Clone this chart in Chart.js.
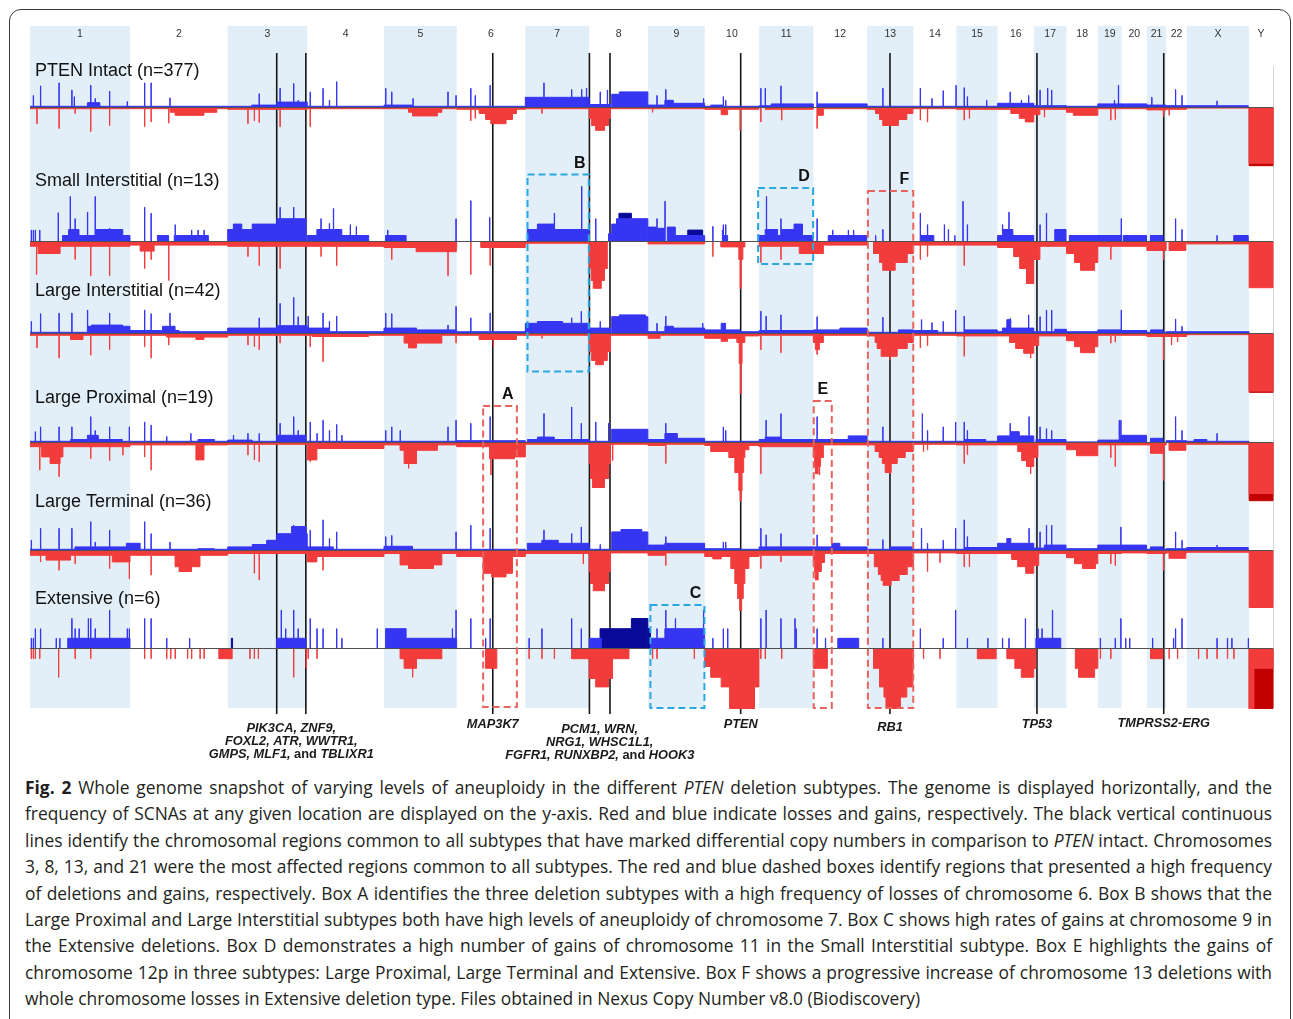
<!DOCTYPE html>
<html>
<head>
<meta charset="utf-8">
<title>Whole genome snapshot - PTEN deletion subtypes</title>
<script src="https://cdn.jsdelivr.net/npm/chart.js@4.4.1/dist/chart.umd.min.js"></script>
<style>
  body { margin: 0; background: #fff; width: 1293px; height: 1019px; overflow: hidden; position: relative; }
  #frame { position: absolute; left: 9px; top: 9px; width: 1280px; height: 1040px; border: 1.5px solid #3a3a3a; border-radius: 12px; }
  #wrap { position: absolute; left: 0; top: 0; width: 1293px; height: 770px; }
  #caption { position: absolute; left: 25px; top: 774px; width: 1247px; font-family: "Open Sans", sans-serif; font-size: 17.4px; line-height: 26.4px; color: #231f20; }
  #caption div { text-align: justify; text-align-last: justify; }
  #caption div.last { text-align-last: left; }
</style>
</head>
<body>
<div id="frame"></div>
<div id="wrap"><canvas id="genome" width="1293" height="770"></canvas></div>
<div id="caption">
  <div><b>Fig. 2</b> Whole genome snapshot of varying levels of aneuploidy in the different <i>PTEN</i> deletion subtypes. The genome is displayed horizontally, and the</div>
  <div>frequency of SCNAs at any given location are displayed on the y-axis. Red and blue indicate losses and gains, respectively. The black vertical continuous</div>
  <div>lines identify the chromosomal regions common to all subtypes that have marked differential copy numbers in comparison to <i>PTEN</i> intact. Chromosomes</div>
  <div>3, 8, 13, and 21 were the most affected regions common to all subtypes. The red and blue dashed boxes identify regions that presented a high frequency</div>
  <div>of deletions and gains, respectively. Box A identifies the three deletion subtypes with a high frequency of losses of chromosome 6. Box B shows that the</div>
  <div>Large Proximal and Large Interstitial subtypes both have high levels of aneuploidy of chromosome 7. Box C shows high rates of gains at chromosome 9 in</div>
  <div>the Extensive deletions. Box D demonstrates a high number of gains of chromosome 11 in the Small Interstitial subtype. Box E highlights the gains of</div>
  <div>chromosome 12p in three subtypes: Large Proximal, Large Terminal and Extensive. Box F shows a progressive increase of chromosome 13 deletions with</div>
  <div class="last">whole chromosome losses in Extensive deletion type. Files obtained in Nexus Copy Number v8.0 (Biodiscovery)</div>
</div>
<script>
// chromosomes (X = 23, Y = 24) and their lengths in Mb
const chromosomes = ["1", "2", "3", "4", "5", "6", "7", "8", "9", "10", "11", "12", "13", "14", "15", "16", "17", "18", "19", "20", "21", "22", "X", "Y"];
const chromLengthsMb = [249.25, 243.2, 198.0, 191.2, 180.9, 171.1, 159.1, 146.4, 141.2, 135.5, 135.0, 133.9, 115.2, 107.3, 102.5, 90.4, 81.2, 78.1, 59.1, 63.0, 48.1, 51.3, 155.3, 59.4];
const subtypes = ["PTEN Intact (n=377)", "Small Interstitial (n=13)", "Large Interstitial (n=42)", "Large Proximal (n=19)", "Large Terminal (n=36)", "Extensive (n=6)"];

// black lines: [chromosome, Mb]
const geneLines = [[3, 122], [3, 194.5], [6, 90], [8, 0.5], [8, 51.7], [10, 89.6], [13, 57], [17, 7.6], [21, 42]];
const geneLabels = [
  { lines: [0, 1], text: ["PIK3CA, ZNF9,", "FOXL2, ATR, WWTR1,", "GMPS, MLF1, and TBLIXR1"] },
  { lines: [2], text: ["MAP3K7"] },
  { lines: [3, 4], text: ["PCM1, WRN,", "NRG1, WHSC1L1,", "FGFR1, RUNXBP2, and HOOK3"] },
  { lines: [5], text: ["PTEN"] },
  { lines: [6], text: ["RB1"] },
  { lines: [7], text: ["TP53"] },
  { lines: [8], text: ["TMPRSS2-ERG"] }
];

// dashed boxes: label, colour, from [chr, Mb], to [chr, Mb]
const boxLabels = ["A", "B", "C", "D", "E", "F"];
const boxKinds = ["loss", "gain", "gain", "gain", "loss", "loss"];
const boxFrom = [[6, 66], [7, 5.4], [9, 6], [10, 133], [12, 1], [13, 2]];
const boxTo = [[6, 150], [7, 158], [9, 140.5], [11, 134.5], [12, 46], [13, 115]];

// frequencies (%) per subtype. segments: [chr, startMb, endMb, %], spikes: [chr, Mb, %]
const ptenIntactGain = [[1,0,249,2],[1,143,174,8],[2,0,243,2],[3,0,198,2],[3,60,198,4],[3,122,198,9],[4,0,191,2],[5,0,181,2],[5,0,70,4],[6,0,171,2],[7,0,159,17],[8,0,53,5],[8,56,146,22],[8,75,146,26],[9,0,42,4],[9,42,141,7],[9,42,63,12],[10,0,135,2],[10,15,46,4],[11,0,135,3],[11,30,135,6],[12,10,134,6],[13,0,115,2],[14,0,107,2],[15,0,102,2],[16,0,90,7],[17,0,81,3],[18,0,78,2],[19,0,59,6],[20,0,63,6],[21,0,48,4],[22,0,51,3],[23,0,153,3]];
const ptenIntactGainSpikes = [[1,8,20],[1,26,36],[1,72,41],[1,104,29],[1,110,18],[1,151,37],[1,162,15],[1,198,27],[1,242,10],[2,36,41],[2,52,41],[2,99,16],[3,78,23],[3,130,32],[3,164,40],[3,175,12],[4,7,26],[4,39,32],[4,55,12],[4,73,43],[5,4,32],[5,19,26],[5,72,15],[5,159,26],[5,179,20],[6,35,32],[6,46,20],[6,83,37],[7,46,41],[7,115,30],[7,140,30],[7,152,32],[8,27,26],[8,45,29],[9,22,20],[9,44,30],[9,138,15],[10,46,18],[10,52,12],[11,4,32],[11,15,32],[11,54,36],[12,9,26],[13,39,32],[14,17,32],[14,46,15],[14,74,28],[14,106,37],[15,19,33],[15,27,18],[15,75,12],[16,31,26],[16,59,12],[16,77,20],[17,15,29],[17,34,32],[17,44,29],[19,41,12],[19,51,37],[21,12,17],[22,23,30],[22,39,20],[23,75,11]];
const ptenIntactLoss = [[1,0,249,2],[2,0,243,2],[2,100,216,8],[2,112,184,13],[3,0,198,3],[4,0,191,2],[5,0,181,2],[5,61,144,8],[5,71,133,14],[6,0,171,3],[6,56,149,10],[6,72,139,20],[6,85,123,27],[7,0,159,2],[8,0,53,18],[8,6,48,30],[8,16,38,38],[8,53,146,2],[9,0,141,2],[10,0,135,3],[10,41,57,12],[11,15,135,3],[12,9,25,13],[12,25,134,2],[13,0,115,3],[13,21,114,10],[13,31,99,20],[13,39,78,30],[14,0,107,2],[15,0,102,3],[16,0,90,3],[16,33,90,10],[16,54,90,18],[16,69,90,24],[17,0,15,12],[17,15,81,3],[18,0,78,8],[18,17,78,13],[19,0,59,2],[20,0,63,2],[21,0,48,4],[22,0,51,3],[23,0,155,1],[24,0,59.4,93]];
const ptenIntactLossSpikes = [[1,17,27],[1,72,35],[1,112,10],[1,151,40],[1,198,30],[2,36,32],[2,52,24],[2,96,26],[3,50,27],[3,66,22],[3,78,25],[3,130,32],[4,7,32],[6,35,22],[6,46,18],[7,41,10],[9,11,8],[10,88,38],[11,4,24],[11,56,21],[12,9,35],[14,17,21],[14,35,24],[15,19,21],[15,32,18],[17,26,16],[19,32,21],[19,43,20],[21,41,15],[22,7,13]];
const ptenIntactDarkGain = [];
const ptenIntactDarkLoss = [[24,0,59.4,97]];

const smallInterstitialGain = [[1,81,249,10],[1,96,122,20],[1,164,231,20],[2,68,96,10],[2,110,195,10],[3,0,61,20],[3,14,35,29],[3,61,122,29],[3,122,195,38],[4,0,153,10],[4,24,86,20],[5,4,55,10],[7,5,159,20],[7,30,72,29],[8,48,56,13],[8,56,68,29],[8,68,146,38],[9,0,22,24],[9,22,42,22],[9,48,68,24],[9,68,141,10],[10,44,57,10],[11,0,134,10],[11,15,46,20],[11,56,87,20],[11,87,108,29],[12,37,133,10],[14,17,51,10],[16,0,90,10],[16,12,38,20],[17,52,80,20],[18,7,78,10],[19,0,59,10],[20,4,62,10],[21,9,40,10],[23,117,153,10]];
const smallInterstitialGainSpikes = [[1,3,19],[1,8,19],[1,13,19],[1,24,19],[1,70,48],[1,100,75],[1,112,38],[1,143,49],[1,162,75],[1,198,22],[2,36,57],[2,52,47],[2,112,28],[2,153,19],[2,169,19],[2,184,19],[3,130,57],[3,164,57],[4,34,38],[4,55,30],[4,65,55],[4,107,28],[4,122,25],[5,9,19],[5,179,38],[6,35,68],[6,82,40],[7,72,47],[7,140,92],[8,16,38],[9,22,38],[9,42,67],[10,20,25],[10,44,19],[10,46,28],[10,52,28],[11,18,75],[11,54,38],[11,103,29],[12,9,38],[12,48,19],[12,87,19],[12,100,19],[13,21,10],[13,39,20],[14,17,47],[14,35,28],[14,77,28],[14,87,20],[14,103,10],[15,16,67],[15,27,28],[16,12,28],[16,28,49],[17,15,28],[17,31,47],[19,58,38],[22,23,38],[22,39,20],[23,75,10]];
const smallInterstitialLoss = [[1,0,249,8],[1,20,75,20],[2,0,243,6],[2,25,60,16],[3,0,198,8],[4,0,191,8],[5,0,181,10],[5,80,180,17],[6,60,171,10],[7,0,159,3],[8,0,45,45],[8,5,38,65],[8,10,30,78],[9,0,141,4],[10,40,100,9],[10,85,95,30],[10,88,91,78],[11,0,100,8],[11,100,135,20],[12,0,25,20],[12,25,134,6],[13,16,115,20],[13,31,100,35],[13,39,70,48],[14,0,107,6],[15,0,102,6],[16,0,90,10],[16,40,90,25],[16,55,90,45],[16,72,90,70],[17,0,15,30],[17,15,81,8],[18,0,78,20],[18,20,78,35],[18,35,70,48],[19,0,59,8],[20,0,63,8],[21,0,48,15],[22,7,49,15],[23,0,155,4],[24,0,59.4,77]];
const smallInterstitialLossSpikes = [[1,16,55],[1,151,57],[1,198,57],[1,112,30],[2,36,45],[2,96,65],[2,52,30],[3,78,40],[3,130,45],[3,50,25],[4,73,40],[4,34,25],[5,159,57],[5,19,30],[6,35,55],[6,83,40],[10,20,25],[11,4,35],[11,54,30],[14,17,30],[14,35,25],[15,19,40],[19,32,30],[21,41,30]];
const smallInterstitialDarkGain = [[8,74,105,47],[9,99,136,19]];
const smallInterstitialDarkLoss = [];

const largeInterstitialGain = [[1,0,249,2],[1,143,249,12],[1,153,231,14],[2,0,122,5],[2,81,112,12],[2,122,243,3],[3,0,122,9],[3,122,198,13],[4,0,55,9],[4,55,191,3],[5,0,81,9],[5,81,181,6],[6,0,171,3],[7,0,159,17],[7,30,93,20],[8,0,53,9],[8,56,146,28],[8,75,140,31],[9,0,42,3],[9,42,141,9],[9,42,63,12],[10,0,88,6],[10,41,52,17],[10,88,135,3],[11,0,135,5],[12,0,134,6],[12,66,134,9],[13,0,78,2],[13,78,115,6],[14,0,61,5],[14,61,107,2],[15,0,21,2],[15,21,102,6],[16,0,12,3],[16,12,90,9],[16,23,33,23],[17,0,52,3],[17,52,81,7],[18,0,78,3],[19,0,59,6],[20,0,63,5],[21,0,48,2],[21,9,40,6],[22,0,51,3],[23,0,155,3]];
const largeInterstitialGainSpikes = [[1,3,20],[1,26,33],[1,72,34],[1,104,34],[1,143,39],[1,198,34],[2,36,39],[2,52,33],[2,99,34],[3,78,26],[3,130,50],[3,164,60],[3,175,28],[4,2,29],[4,39,34],[4,73,29],[4,55,20],[5,4,34],[5,19,33],[5,159,14],[5,179,45],[6,35,26],[6,83,34],[7,139,37],[7,115,26],[8,27,20],[9,22,17],[9,44,29],[9,136,17],[11,4,37],[11,17,29],[11,54,31],[12,9,28],[13,39,27],[14,20,23],[14,46,18],[14,74,20],[14,105,39],[15,19,29],[16,31,25],[16,77,31],[17,15,28],[17,31,39],[17,44,39],[19,58,39],[22,23,24],[22,39,12]];
const largeInterstitialLoss = [[1,0,249,3],[1,101,132,10],[2,0,243,3],[2,91,243,6],[2,164,184,10],[3,0,198,3],[4,0,191,3],[4,13,153,5],[5,0,181,3],[5,50,144,16],[5,61,81,24],[6,0,171,3],[6,56,149,10],[7,0,159,3],[8,0,53,30],[8,6,45,45],[8,16,35,52],[8,53,146,3],[9,0,141,3],[9,0,30,8],[10,0,88,8],[10,41,57,13],[10,80,100,15],[10,86,93,50],[10,88.5,91,100],[10,100,135,4],[11,0,135,3],[12,0,25,15],[12,5,15,27],[12,25,134,3],[13,0,115,4],[13,20,115,15],[13,25,100,25],[13,35,75,38],[14,0,107,3],[15,0,102,4],[16,0,90,4],[16,30,90,15],[16,45,90,25],[16,65,90,33],[17,0,12,20],[17,12,81,4],[18,0,78,12],[18,20,78,22],[18,35,70,32],[19,0,59,3],[20,0,63,3],[21,0,48,5],[22,0,51,5],[23,0,155,2],[24,0,59.4,96]];
const largeInterstitialLossSpikes = [[1,17,24],[1,72,41],[1,151,36],[1,198,27],[2,36,22],[2,52,41],[2,96,19],[3,50,19],[3,66,22],[3,78,27],[3,130,16],[4,7,22],[4,39,47],[5,179,16],[6,91,22],[7,41,8],[11,4,27],[11,54,32],[12,9,35],[13,57,44],[14,17,24],[14,35,20],[15,19,38],[16,82,41],[19,32,16],[19,43,14],[21,41,44],[22,13,19],[22,28,14]];
const largeInterstitialDarkGain = [];
const largeInterstitialDarkLoss = [[24,0,59.4,98]];

const largeProximalGain = [[1,0,249,2],[1,101,230,5],[1,143,170,12],[2,0,243,2],[2,169,210,5],[3,0,61,4],[3,61,122,2],[3,122,195,12],[4,0,191,2],[5,0,181,2],[6,0,171,3],[7,5,159,5],[7,30,72,9],[8,0,56,2],[8,56,146,22],[9,0,42,5],[9,42,73,15],[9,73,141,7],[10,0,135,2],[11,0,134,5],[11,15,56,9],[12,0,134,5],[12,87,134,11],[13,0,115,2],[14,0,107,2],[15,0,102,2],[15,21,73,5],[16,0,90,11],[16,33,54,18],[17,5,80,5],[18,0,78,1],[19,0,59,4],[19,53,59,12],[20,0,62,12],[21,9,40,7],[22,0,51,3],[23,0,155,2],[23,18,50,5]];
const largeProximalGainSpikes = [[1,13,18],[1,26,26],[1,72,26],[1,104,26],[1,151,43],[1,162,20],[1,198,26],[1,247,26],[2,36,34],[2,52,29],[2,91,10],[2,151,15],[3,14,12],[3,50,15],[3,78,15],[3,130,32],[3,164,43],[3,175,20],[4,7,34],[4,24,15],[4,39,37],[4,55,20],[4,73,30],[4,86,12],[5,4,20],[5,19,26],[5,40,20],[5,159,26],[5,179,37],[6,35,32],[6,83,43],[7,46,48],[7,115,59],[7,139,32],[8,16,34],[8,48,32],[9,44,32],[10,46,26],[10,52,20],[11,17,37],[11,54,48],[12,9,43],[13,39,26],[14,22,48],[14,35,20],[14,74,26],[14,105,34],[15,19,34],[15,27,20],[16,31,32],[16,78,43],[17,15,26],[17,31,23],[17,44,20],[19,53,37],[19,57,37],[22,23,43],[22,39,20],[23,75,15]];
const largeProximalLoss = [[1,0,249,7],[1,29,82,24],[1,50,75,35],[2,0,243,4],[2,164,184,29],[3,0,198,3],[4,0,24,29],[4,24,191,10],[5,0,181,4],[5,40,133,13],[5,50,81,35],[6,0,171,7],[6,82,144,27],[6,144,171,24],[7,0,159,3],[8,0,53,35],[8,3,48,60],[8,8,38,75],[8,53,146,3],[9,0,42,5],[9,42,141,3],[10,0,135,5],[10,15,88,15],[10,40,110,12],[10,60,100,25],[10,75,97,50],[10,85,93,80],[10,88,91,97],[11,0,135,7],[12,0,25,25],[12,3,18,40],[12,5,12,52],[12,25,134,4],[13,0,115,4],[13,20,115,15],[13,30,95,25],[13,38,75,35],[13,45,60,50],[14,0,107,3],[15,0,102,4],[16,0,90,4],[16,50,90,15],[16,60,90,30],[16,72,90,40],[17,0,10,25],[17,10,81,4],[18,0,78,12],[18,25,78,22],[19,0,59,4],[20,0,63,4],[21,0,48,4],[21,9,43,18],[22,7,49,13],[23,0,155,3],[24,0,59.4,85]];
const largeProximalLossSpikes = [[1,24,46],[1,72,57],[1,151,27],[1,198,30],[1,231,21],[2,36,24],[2,52,46],[3,50,21],[3,66,29],[3,78,32],[4,7,32],[5,61,43],[6,85,54],[8,58,30],[9,44,35],[11,4,52],[12,15,54],[13,57,52],[14,25,15],[14,35,12],[15,19,35],[15,27,20],[16,82,52],[19,32,25],[19,43,40],[21,41,63]];
const largeProximalDarkGain = [];
const largeProximalDarkLoss = [[24,0,59.4,97]];

const largeTerminalGain = [[1,0,249,2],[1,112,249,6],[1,240,249,12],[2,0,25,12],[2,25,243,2],[2,169,210,3],[3,0,61,6],[3,61,110,10],[3,97,122,17],[3,122,198,28],[3,159,195,40],[4,0,65,6],[4,65,191,2],[5,0,71,7],[5,71,181,2],[6,0,171,2],[7,5,159,12],[7,41,82,17],[8,0,56,2],[8,56,146,31],[8,79,131,35],[9,0,42,9],[9,42,141,12],[10,0,88,3],[10,88,135,2],[11,0,134,6],[12,0,134,6],[12,46,66,12],[13,0,57,2],[13,57,114,6],[14,0,107,2],[15,0,21,2],[15,21,102,5],[16,0,90,12],[16,23,33,20],[17,0,26,4],[17,26,80,9],[18,0,78,3],[19,0,59,9],[20,0,62,9],[21,0,48,2],[21,9,40,6],[22,0,51,3],[23,0,153,5]];
const largeTerminalGainSpikes = [[1,3,17],[1,26,37],[1,72,37],[1,104,37],[1,151,48],[1,162,14],[1,198,34],[2,36,48],[2,52,28],[2,99,14],[3,164,42],[4,7,34],[4,39,51],[4,55,20],[4,73,31],[5,4,23],[5,19,25],[5,179,31],[6,35,42],[6,83,37],[7,46,34],[7,115,28],[7,139,39],[8,27,10],[9,44,23],[10,46,14],[10,52,14],[11,4,37],[11,17,26],[11,54,28],[12,9,26],[13,39,18],[14,20,37],[14,35,12],[14,74,17],[14,105,37],[15,19,51],[15,27,23],[16,31,20],[16,78,37],[17,15,31],[17,31,42],[17,44,42],[19,57,39],[22,23,31],[22,39,17],[23,75,9]];
const largeTerminalLoss = [[1,0,249,8],[1,40,101,16],[1,205,249,19],[2,0,243,8],[2,112,174,27],[2,122,153,35],[3,0,198,5],[4,0,191,10],[4,0,24,19],[5,0,181,5],[5,40,144,24],[5,61,123,30],[6,0,171,10],[6,66,139,38],[6,87,123,44],[7,0,159,5],[8,0,53,35],[8,3,48,55],[8,10,38,67],[8,53,146,4],[9,0,42,8],[9,42,141,4],[10,0,135,10],[10,20,41,14],[10,65,110,30],[10,75,100,55],[10,82,96,80],[10,87,92,100],[11,0,135,8],[12,0,28,20],[12,3,20,35],[12,5,12,49],[12,28,134,5],[13,0,115,5],[13,18,115,27],[13,28,100,40],[13,35,80,50],[13,40,60,58],[14,0,107,4],[15,0,102,5],[16,0,90,5],[16,35,90,15],[16,50,90,27],[16,70,90,38],[17,0,12,25],[17,12,81,5],[18,0,78,12],[18,20,78,22],[18,40,72,30],[19,0,59,5],[20,0,63,4],[21,0,48,5],[22,0,51,4],[22,7,49,13],[23,0,155,3],[24,0,59.4,95]];
const largeTerminalLossSpikes = [[1,247,47],[1,26,19],[1,72,33],[1,112,22],[1,198,30],[2,52,41],[3,66,38],[3,78,49],[4,39,33],[7,144,22],[9,44,25],[11,4,30],[11,54,19],[14,35,35],[14,66,20],[15,19,27],[15,32,27],[19,32,22],[19,43,25],[21,41,33]];
const largeTerminalDarkGain = [];
const largeTerminalDarkLoss = [];

const extensiveGain = [[1,94,249,17],[3,122,195,17],[5,4,55,33],[5,55,181,17],[8,0,30,17],[9,6,42,17],[9,42,141,33],[12,61,113,17],[17,5,67,17]];
const extensiveGainSpikes = [[1,3,17],[1,8,17],[1,13,33],[1,26,33],[1,65,17],[1,74,17],[1,104,50],[1,112,33],[1,122,33],[1,145,50],[1,151,50],[1,162,33],[1,198,64],[1,242,33],[1,247,33],[2,36,50],[2,52,50],[2,91,17],[2,148,17],[3,133,64],[3,144,33],[3,164,64],[3,175,33],[4,7,50],[4,24,33],[4,39,33],[4,73,33],[4,86,17],[4,174,33],[5,170,33],[5,179,64],[6,35,50],[6,72,17],[6,83,50],[7,9,17],[7,41,33],[7,115,50],[7,139,33],[9,22,33],[9,44,64],[9,68,50],[9,138,64],[10,20,17],[10,46,33],[10,57,33],[11,4,50],[11,17,64],[11,54,50],[11,89,50],[11,92,33],[12,9,33],[12,30,17],[13,39,17],[14,17,33],[14,74,17],[14,105,64],[15,27,17],[15,78,17],[16,12,17],[16,28,17],[16,69,50],[17,10,33],[17,20,33],[17,46,64],[19,6,17],[19,43,17],[19,57,50],[20,10,17],[20,20,17],[21,14,17],[22,18,17],[22,23,33],[22,39,50],[23,75,17],[23,101,17],[23,112,17],[23,153,17]];
const extensiveLoss = [[2,221,243,17],[3,0,11,17],[5,40,144,17],[5,50,81,33],[6,72,100,33],[7,115,159,17],[8,0,58,50],[8,16,48,64],[8,58,99,17],[10,0,15,30],[10,15,41,48],[10,41,62,64],[10,62,124,100],[10,124,135,64],[12,0,35,33],[13,16,115,33],[13,31,114,64],[13,42,99,81],[13,47,83,100],[15,52,99,17],[16,23,90,17],[16,43,80,33],[16,59,90,48],[17,0,5,33],[18,22,78,33],[18,30,70,48],[21,9,40,17],[24,0,12,100],[24,12,59.4,33]];
const extensiveLossSpikes = [[1,3,17],[1,8,17],[1,13,17],[1,24,17],[1,71,48],[1,112,17],[1,151,17],[2,36,17],[2,52,17],[2,91,17],[2,101,17],[2,112,17],[2,143,17],[2,153,17],[2,174,17],[2,184,17],[3,55,17],[3,66,17],[3,76,17],[3,164,48],[3,195,33],[4,2,17],[4,24,17],[5,71,48],[7,9,17],[7,41,17],[7,72,17],[9,11,17],[9,22,17],[9,115,17],[11,4,17],[11,15,17],[11,56,17],[12,15,17],[14,25,17],[14,66,17],[15,63,17],[15,73,17],[19,6,17],[19,32,17],[22,7,17],[22,28,17],[23,29,17],[23,50,17],[23,75,17],[23,101,17],[23,117,17]];
const extensiveDarkGain = [[3,9,12,17],[8,27,58,33],[8,58,105,33],[8,105,146,50],[9,0,6,33]];
const extensiveDarkLoss = [[24,0,59.4,100]];

// layout
const PLOT_LEFT = 30, PLOT_RIGHT = 1273, PLOT_TOP = 26, PLOT_BOTTOM = 710, SHADE_BOTTOM = 708;
const PX_PER_PCT = 0.6;
const baselinePx = [107.5, 241.5, 333.5, 442.5, 550.5, 648.5];
const subtypeLabelY = [71, 181, 291, 398, 502, 599];
const geneLabelY = [[728, 741, 754], [724], [729, 742, 755], [724], [727], [724], [723]];
const SPIKE_MB = 0.8;

const GAIN = "#3535f2", LOSS = "#f23c3c", DARK_GAIN = "#0a0a98", DARK_LOSS = "#c20000";
const SHADE = "#e2eff9";
const BOX_COLORS = { gain: "#2aa8e2", loss: "#e8625e" };

const chromStart = [];
chromLengthsMb.reduce((acc, len, i) => { chromStart[i] = acc; return acc + len; }, 0);
const genomeLength = chromLengthsMb.reduce((a, b) => a + b, 0);
const yMax = (PLOT_BOTTOM - PLOT_TOP) / PX_PER_PCT;
const baseValue = baselinePx.map(px => (PLOT_BOTTOM - px) / PX_PER_PCT);

const subtypeData = [
  { gain: ptenIntactGain, gainSpikes: ptenIntactGainSpikes, loss: ptenIntactLoss, lossSpikes: ptenIntactLossSpikes, darkGain: ptenIntactDarkGain, darkLoss: ptenIntactDarkLoss },
  { gain: smallInterstitialGain, gainSpikes: smallInterstitialGainSpikes, loss: smallInterstitialLoss, lossSpikes: smallInterstitialLossSpikes, darkGain: smallInterstitialDarkGain, darkLoss: smallInterstitialDarkLoss },
  { gain: largeInterstitialGain, gainSpikes: largeInterstitialGainSpikes, loss: largeInterstitialLoss, lossSpikes: largeInterstitialLossSpikes, darkGain: largeInterstitialDarkGain, darkLoss: largeInterstitialDarkLoss },
  { gain: largeProximalGain, gainSpikes: largeProximalGainSpikes, loss: largeProximalLoss, lossSpikes: largeProximalLossSpikes, darkGain: largeProximalDarkGain, darkLoss: largeProximalDarkLoss },
  { gain: largeTerminalGain, gainSpikes: largeTerminalGainSpikes, loss: largeTerminalLoss, lossSpikes: largeTerminalLossSpikes, darkGain: largeTerminalDarkGain, darkLoss: largeTerminalDarkLoss },
  { gain: extensiveGain, gainSpikes: extensiveGainSpikes, loss: extensiveLoss, lossSpikes: extensiveLossSpikes, darkGain: extensiveDarkGain, darkLoss: extensiveDarkLoss }
];

// step profile along the genome: the highest value covering each interval
// (each point's value holds until the next point)
function buildProfile(segs, spikes, base, sign) {
  const pts = [];
  chromLengthsMb.forEach((len, i) => {
    const c = i + 1;
    const items = segs.filter(s => s[0] === c).map(s => [s[1], s[2], s[3]])
      .concat(spikes.filter(s => s[0] === c).map(s => [s[1], s[1] + SPIKE_MB, s[2]]));
    const cuts = [0, len];
    items.forEach(it => {
      cuts.push(Math.max(0, Math.min(len, it[0])), Math.max(0, Math.min(len, it[1])));
    });
    const xs = [...new Set(cuts)].sort((a, b) => a - b);
    for (let k = 0; k < xs.length - 1; k++) {
      const mid = (xs[k] + xs[k + 1]) / 2;
      let v = 0;
      items.forEach(it => { if (it[0] <= mid && mid <= it[1]) v = Math.max(v, it[2]); });
      const y = base + sign * v;
      if (pts.length && pts[pts.length - 1].y === y) continue;
      pts.push({ x: chromStart[i] + xs[k], y: y });
    }
  });
  pts.push({ x: genomeLength, y: base });
  return pts;
}

function stepDataset(data, base, color, order) {
  return {
    data: data,
    stepped: "before",
    borderColor: color,
    backgroundColor: color,
    borderWidth: 1,
    pointRadius: 0,
    fill: { value: base },
    clip: false,
    order: order
  };
}

const datasets = [];
subtypeData.forEach((d, i) => {
  const base = baseValue[i];
  if (d.darkGain.length) datasets.push(stepDataset(buildProfile(d.darkGain, [], base, 1), base, DARK_GAIN, 2));
  if (d.darkLoss.length) datasets.push(stepDataset(buildProfile(d.darkLoss, [], base, -1), base, DARK_LOSS, 2));
  datasets.push(stepDataset(buildProfile(d.gain, d.gainSpikes, base, 1), base, GAIN, 1));
  datasets.push(stepDataset(buildProfile(d.loss, d.lossSpikes, base, -1), base, LOSS, 1));
});

function genomePos(chr, mb) {
  return chromStart[chr - 1] + mb;
}

function drawMixed(ctx, text, cx, y) {
  // gene names italic, "and" upright
  const parts = text.split(/(\band\b)/);
  const fonts = parts.map(p => (p === "and" ? "bold 12.8px 'Liberation Sans'" : "italic bold 12.8px 'Liberation Sans'"));
  let total = 0;
  const widths = parts.map((p, k) => { ctx.font = fonts[k]; const w = ctx.measureText(p).width; total += w; return w; });
  let x = cx - total / 2;
  ctx.textAlign = "left";
  parts.forEach((p, k) => { ctx.font = fonts[k]; ctx.fillText(p, x, y); x += widths[k]; });
}

const genomeDecor = {
  id: "genomeDecor",
  beforeDatasetsDraw(chart) {
    const { ctx, scales: { x } } = chart;
    ctx.save();
    chromLengthsMb.forEach((len, i) => {
      const x0 = x.getPixelForValue(chromStart[i]);
      const x1 = x.getPixelForValue(chromStart[i] + len);
      if (i % 2 === 0 && i < 23) {
        ctx.fillStyle = SHADE;
        ctx.fillRect(x0, PLOT_TOP, x1 - x0, SHADE_BOTTOM - PLOT_TOP);
      }
      ctx.fillStyle = "#333";
      ctx.font = "10.5px 'Liberation Sans'";
      ctx.textAlign = "center";
      ctx.textBaseline = "middle";
      ctx.fillText(chromosomes[i], (x0 + x1) / 2, 34);
    });
    // right edge
    ctx.strokeStyle = "#d4d4d4";
    ctx.lineWidth = 1;
    ctx.beginPath();
    ctx.moveTo(PLOT_RIGHT + 0.5, PLOT_TOP + 40);
    ctx.lineTo(PLOT_RIGHT + 0.5, SHADE_BOTTOM);
    ctx.stroke();
    // black gene lines
    ctx.strokeStyle = "#161616";
    ctx.lineWidth = 1.6;
    geneLines.forEach(g => {
      const px = x.getPixelForValue(genomePos(g[0], g[1]));
      ctx.beginPath();
      ctx.moveTo(px, 53);
      ctx.lineTo(px, 714);
      ctx.stroke();
    });
    ctx.restore();
  },
  afterDatasetsDraw(chart) {
    const { ctx, scales: { x, y } } = chart;
    ctx.save();
    // baselines
    ctx.strokeStyle = "#505050";
    ctx.lineWidth = 1.2;
    baseValue.forEach(b => {
      const py = y.getPixelForValue(b);
      ctx.beginPath();
      ctx.moveTo(PLOT_LEFT, py);
      ctx.lineTo(PLOT_RIGHT, py);
      ctx.stroke();
    });
    // subtype labels
    ctx.fillStyle = "#111";
    ctx.font = "18px 'Liberation Sans'";
    ctx.textAlign = "left";
    ctx.textBaseline = "middle";
    subtypes.forEach((s, i) => ctx.fillText(s, 35, subtypeLabelY[i]));
    // dashed boxes
    const boxTop = [406, 174.5, 605, 188, 401, 191];
    const boxBottom = [707, 371.5, 708, 264, 708, 708];
    ctx.lineWidth = 2;
    ctx.setLineDash([7, 4]);
    boxLabels.forEach((lab, i) => {
      const x0 = x.getPixelForValue(genomePos(boxFrom[i][0], boxFrom[i][1]));
      const x1 = x.getPixelForValue(genomePos(boxTo[i][0], boxTo[i][1]));
      ctx.strokeStyle = BOX_COLORS[boxKinds[i]];
      ctx.strokeRect(x0, boxTop[i], x1 - x0, boxBottom[i] - boxTop[i]);
    });
    ctx.setLineDash([]);
    ctx.fillStyle = "#111";
    ctx.font = "bold 16px 'Liberation Sans'";
    ctx.textAlign = "center";
    boxLabels.forEach((lab, i) => {
      const x1 = x.getPixelForValue(genomePos(boxTo[i][0], boxTo[i][1]));
      ctx.fillText(lab, x1 - 9, boxTop[i] - 11);
    });
    // gene labels
    ctx.fillStyle = "#1a1a1a";
    ctx.textBaseline = "middle";
    geneLabels.forEach((g, i) => {
      const xs = g.lines.map(k => x.getPixelForValue(genomePos(geneLines[k][0], geneLines[k][1])));
      const cx = xs.reduce((a, b) => a + b, 0) / xs.length;
      g.text.forEach((t, k) => drawMixed(ctx, t, cx, geneLabelY[i][k]));
    });
    ctx.restore();
  }
};

document.addEventListener("DOMContentLoaded", () => {
  const ctx = document.getElementById("genome").getContext("2d");
  new Chart(ctx, {
    type: "line",
    data: { datasets: datasets },
    options: {
      responsive: false,
      animation: false,
      events: [],
      layout: { padding: { left: PLOT_LEFT, top: PLOT_TOP, right: 1293 - PLOT_RIGHT, bottom: 770 - PLOT_BOTTOM } },
      plugins: { legend: { display: false }, tooltip: { enabled: false } },
      elements: { line: { tension: 0 }, point: { radius: 0 } },
      scales: {
        x: { type: "linear", min: 0, max: genomeLength, display: false },
        y: { type: "linear", min: 0, max: yMax, display: false }
      }
    },
    plugins: [genomeDecor]
  });
});
</script>
</body>
</html>
